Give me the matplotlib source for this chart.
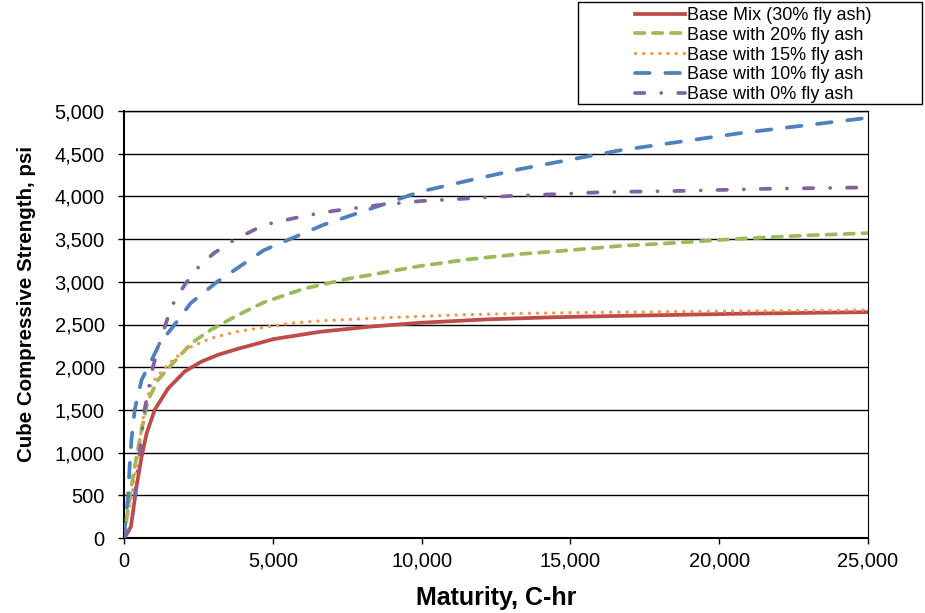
import numpy as np
import matplotlib
matplotlib.use("Agg")
import matplotlib.pyplot as plt
from matplotlib.ticker import FuncFormatter, MultipleLocator
from matplotlib.patches import Rectangle

plt.rcParams['font.family'] = ['Liberation Sans', 'DejaVu Sans']

# maturity (C-hr) / strength (psi)
m_base = [0, 230, 420, 590, 760, 1030, 1480, 2040, 2600, 3160, 3770, 5040, 6590, 8270,
          9950, 12190, 14430, 16560, 20470, 25000]
s_base = [0, 130, 600, 950, 1225, 1500, 1750, 1950, 2065, 2145, 2210, 2330, 2415, 2475,
          2520, 2560, 2585, 2600, 2625, 2645]

m_20 = [0, 80, 250, 420, 590, 810, 1140, 1590, 2260, 2930, 3770, 4700, 6050, 7590, 8270,
        9950, 11630, 13310, 14990, 16670, 18230, 20470, 22720, 25000]
s_20 = [0, 210, 600, 950, 1265, 1615, 1850, 2025, 2280, 2440, 2600, 2760, 2920, 3040, 3080,
        3185, 3265, 3325, 3370, 3420, 3450, 3500, 3540, 3570]

m_15 = [0, 135, 250, 420, 590, 760, 930, 1260, 1700, 2260, 2930, 3770, 4480, 5600, 6720,
        8830, 11070, 13310, 16560, 20000, 25000]
s_15 = [0, 290, 485, 835, 1300, 1615, 1815, 1950, 2105, 2240, 2340, 2415, 2455, 2515, 2545,
        2580, 2610, 2630, 2645, 2655, 2670]

m_10 = [0, 20, 135, 190, 250, 360, 590, 930, 1200, 1650, 2240, 3130, 4700, 6050, 6720,
        8830, 9950, 11630, 13310, 14990, 16670, 18680, 20700, 22720, 25000]
s_10 = [0, 95, 485, 835, 1150, 1500, 1850, 2085, 2280, 2475, 2750, 3000, 3370, 3570, 3670,
        3920, 4055, 4190, 4320, 4430, 4540, 4640, 4740, 4825, 4920]

m_0 = [0, 250, 470, 690, 860, 975, 1200, 1480, 1700, 2070, 2520, 3020, 3700, 4700, 5710,
       6440, 7030, 8600, 9950, 11510, 12970, 14430, 16110, 18790, 21710, 25000]
s_0 = [0, 130, 835, 1500, 1810, 2005, 2290, 2590, 2780, 2980, 3180, 3335, 3490, 3665, 3745,
       3795, 3830, 3900, 3945, 3975, 4005, 4025, 4050, 4065, 4090, 4105]

labels = ['Base Mix (30% fly ash)', 'Base with 20% fly ash', 'Base with 15% fly ash',
          'Base with 10% fly ash', 'Base with 0% fly ash']

fig = plt.figure(figsize=(9.25, 6.13), dpi=100)
ax = fig.add_axes([124/925, 1-538/613, (868-124)/925, (538-111)/613])

lw = 2.7
ax.plot(m_base, s_base, color='#BE4B48', lw=lw, label=labels[0], zorder=3)
ax.plot(m_20, s_20, color='#9BBB59', lw=lw, dashes=(2.5, 2.3), dash_capstyle='round',
        label=labels[1], zorder=3)
ax.plot(m_15, s_15, color='#F79646', lw=lw*0.9, dashes=(0.01, 2.4), dash_capstyle='round',
        label=labels[2], zorder=3)
ax.plot(m_10, s_10, color='#4F81BD', lw=lw, dashes=(3.9, 4.2), dash_capstyle='round',
        label=labels[3], zorder=3)
ax.plot(m_0, s_0, color='#8064A2', lw=lw, dashes=(2.5, 4.5, 0.01, 4.5), dash_capstyle='round',
        label=labels[4], zorder=3)

ax.set_xlim(0, 25000)
ax.set_ylim(0, 5000)
ax.xaxis.set_major_locator(MultipleLocator(5000))
ax.yaxis.set_major_locator(MultipleLocator(500))
fmt = FuncFormatter(lambda v, p: f'{int(v):,}')
ax.xaxis.set_major_formatter(fmt)
ax.yaxis.set_major_formatter(fmt)
ax.grid(axis='y', color='black', lw=1.0, zorder=1)
ax.set_axisbelow(True)
for s in ax.spines.values():
    s.set_color('black')
ax.spines['left'].set_linewidth(1.5)
ax.spines['bottom'].set_linewidth(1.5)
ax.spines['right'].set_linewidth(0.8)
ax.spines['top'].set_linewidth(1.0)
ax.tick_params(direction='out', length=4, width=1, colors='black', labelsize=14.5)
ax.tick_params(axis='y', pad=10)
ax.tick_params(axis='x', pad=6)

ax.set_xlabel('Maturity, C-hr', fontsize=18, fontweight='bold', labelpad=11)
ax.set_ylabel('Cube Compressive Strength, psi', fontsize=14.8, fontweight='bold')
ax.yaxis.set_label_coords(-0.118, 0.549)

# legend sits outside the plot, top right
bx, by, bw, bh = 578/925, 1-104/613, (922-578)/925, 102/613
fig.patches.append(Rectangle((bx, by), bw, bh, transform=fig.transFigure,
                             fill=False, edgecolor='black', lw=1))
fig.legend(loc='center', bbox_to_anchor=(753/925, 1-55/613), frameon=False, fontsize=13,
           handlelength=2.8, handletextpad=0.1, labelspacing=0.15, borderpad=0)

fig.savefig('out.png', dpi=100)
